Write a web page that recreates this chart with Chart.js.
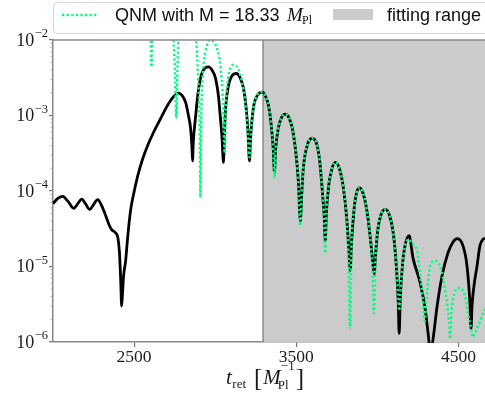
<!DOCTYPE html>
<html lang="en">
<head>
    <meta charset="UTF-8">
    <title>QNM fit</title>
    <script src="https://cdn.jsdelivr.net/npm/chart.js@4.4.0/dist/chart.umd.min.js"></script>
    <style>
        body { margin: 0; background: #fff; }
        .chart-box { width: 485px; height: 401px; position: relative; }
    </style>
</head>
<body>
    <div class="chart-box">
        <canvas id="qnmChart"></canvas>
    </div>

    <script>
        // axis range and ticks
        const xMin = 2000, xMax = 4663;
        const xTicks = [2500, 3500, 4500];
        const yExps = [-2, -3, -4, -5, -6];
        const fitStart = 3295;

        // numerical waveform |h| (black)
        const tBlack = [2000, 2030, 2060, 2090, 2128, 2155, 2177, 2200, 2226, 2250, 2275, 2300, 2325, 2345, 2360, 2385,
            2400, 2410, 2418, 2423, 2429, 2435, 2448, 2460, 2478, 2497, 2522, 2552, 2583, 2620, 2663, 2700, 2725, 2750,
            2774, 2795, 2817, 2835, 2848, 2856, 2860, 2865, 2878, 2893, 2909, 2930, 2958, 2980, 3002, 3020, 3032, 3042,
            3051, 3057, 3066, 3082, 3105, 3131, 3155, 3174, 3190, 3202, 3211, 3218, 3235, 3260, 3291, 3310, 3328, 3345,
            3358, 3365, 3372, 3389, 3410, 3432, 3455, 3475, 3495, 3512, 3525, 3532, 3543, 3570, 3598, 3625, 3645, 3660,
            3672, 3678, 3685, 3700, 3720, 3740, 3765, 3790, 3810, 3825, 3832, 3840, 3855, 3870, 3888, 3910, 3935, 3955,
            3970, 3980, 3988, 4000, 4020, 4048, 4075, 4100, 4118, 4128, 4134, 4140, 4155, 4170, 4195, 4220, 4263, 4294,
            4312, 4328, 4343, 4368, 4398, 4435, 4465, 4493, 4527, 4552, 4570, 4577, 4583, 4595, 4614, 4632, 4651, 4663];
        const hBlack = [6.8e-5, 8.0e-5, 8.5e-5, 7.4e-5, 5.9e-5, 6.9e-5, 7.8e-5, 6.8e-5, 5.7e-5, 6.6e-5, 7.7e-5, 6.4e-5, 4.7e-5, 3.6e-5, 3.1e-5, 2.8e-5,
            2.4e-5, 1.5e-5, 6.0e-6, 3.0e-6, 4.6e-6, 7.5e-6, 1.2e-5, 2.4e-5, 5.5e-5, 9.1e-5, 1.58e-4, 2.63e-4, 3.98e-4, 6.0e-4, 9.1e-4, 1.29e-3, 1.58e-3, 1.84e-3,
            1.98e-3, 1.85e-3, 1.5e-3, 1.0e-3, 6.8e-4, 4.0e-4, 2.5e-4, 4.5e-4, 9.2e-4, 1.9e-3, 3.1e-3, 4.1e-3, 4.4e-3, 4.0e-3, 3.1e-3, 1.8e-3, 9.2e-4, 5.0e-4,
            2.4e-4, 6.0e-4, 1.4e-3, 2.5e-3, 3.4e-3, 3.6e-3, 3.1e-3, 2.3e-3, 1.3e-3, 6.0e-4, 2.5e-4, 5.0e-4, 1.25e-3, 1.85e-3, 2.04e-3, 1.8e-3, 1.37e-3, 7.5e-4,
            3.5e-4, 1.76e-4, 3.5e-4, 6.8e-4, 9.5e-4, 1.04e-3, 9.3e-4, 6.8e-4, 3.5e-4, 1.4e-4, 4.0e-5, 8.0e-5, 2.0e-4, 4.2e-4, 5.0e-4, 4.2e-4, 2.4e-4, 1.0e-4,
            4.5e-5, 2.2e-5, 5.0e-5, 1.2e-4, 2.0e-4, 2.4e-4, 2.0e-4, 1.1e-4, 4.5e-5, 1.5e-5, 8.8e-6, 2.0e-5, 5.5e-5, 9.2e-5, 1.11e-4, 9.5e-5, 5.5e-5, 2.5e-5,
            1.2e-5, 8.0e-6, 1.4e-5, 2.8e-5, 4.7e-5, 5.7e-5, 4.7e-5, 2.5e-5, 9.0e-6, 3.5e-6, 1.3e-6, 3.5e-6, 1.1e-5, 1.9e-5, 2.56e-5, 1.27e-5, 6.1e-6, 2.75e-6,
            1.32e-6, 7.0e-7, 1.1e-6, 3.0e-6, 7.5e-6, 1.52e-5, 2.1e-5, 2.34e-5, 1.89e-5, 1.02e-5, 3.3e-6, 1.5e-6, 3.0e-6, 5.5e-6, 1.02e-5, 1.89e-5, 2.3e-5, 2.35e-5];

        // QNM with M = 18.33 (green dotted)
        const tGreen = [2598, 2607, 2616, 2680, 2742, 2752, 2760, 2767, 2776, 2830, 2880, 2895, 2904, 2909, 2913, 2922,
            2940, 2970, 2990, 3013, 3032, 3048, 3058, 3065, 3080, 3095, 3115, 3140, 3165, 3185, 3200, 3212, 3218, 3235,
            3260, 3291, 3310, 3328, 3345, 3358, 3366, 3372, 3389, 3410, 3432, 3455, 3475, 3495, 3512, 3524, 3532, 3543,
            3570, 3598, 3625, 3645, 3660, 3672, 3678, 3685, 3700, 3720, 3740, 3765, 3790, 3810, 3822, 3831, 3840, 3855,
            3870, 3888, 3910, 3935, 3955, 3968, 3979, 3988, 4000, 4020, 4048, 4075, 4100, 4118, 4128, 4134, 4140, 4155,
            4171, 4190, 4215, 4245, 4263, 4282, 4291, 4300, 4306, 4325, 4355, 4386, 4405, 4429, 4442, 4448, 4456, 4466,
            4497, 4540, 4558, 4575, 4589, 4600, 4614, 4645, 4663];
        const hGreen = [3.0e-2, 4.4e-3, 3.0e-2, 9.0e-2, 1.2e-2, 3.5e-3, 9.2e-4, 4.0e-3, 1.3e-2, 4.0e-2, 1.2e-2, 3.0e-3, 7.0e-4, 8.2e-5, 7.0e-4, 3.0e-3,
            7.0e-3, 1.0e-2, 9.5e-3, 7.5e-3, 4.5e-3, 1.5e-3, 3.2e-4, 1.2e-3, 3.2e-3, 4.3e-3, 4.7e-3, 4.2e-3, 2.8e-3, 1.5e-3, 6.0e-4, 2.8e-4, 5.0e-4, 1.25e-3,
            1.9e-3, 2.05e-3, 1.8e-3, 1.37e-3, 7.5e-4, 3.5e-4, 1.5e-4, 3.5e-4, 6.8e-4, 9.5e-4, 1.04e-3, 9.3e-4, 6.8e-4, 3.5e-4, 1.4e-4, 3.5e-5, 8.0e-5, 2.0e-4,
            4.2e-4, 5.0e-4, 4.2e-4, 2.4e-4, 1.0e-4, 4.0e-5, 1.5e-5, 5.0e-5, 1.2e-4, 2.0e-4, 2.4e-4, 2.0e-4, 1.1e-4, 4.5e-5, 1.2e-5, 1.5e-6, 2.0e-5, 5.5e-5,
            9.2e-5, 1.11e-4, 9.5e-5, 5.5e-5, 2.5e-5, 1.0e-5, 2.4e-6, 1.4e-5, 2.8e-5, 4.7e-5, 5.7e-5, 4.7e-5, 2.5e-5, 9.0e-6, 4.0e-6, 2.6e-6, 4.0e-6, 1.1e-5,
            1.9e-5, 2.3e-5, 2.0e-5, 1.6e-5, 7.5e-6, 3.3e-6, 1.9e-6, 3.3e-6, 4.5e-6, 1.02e-5, 1.19e-5, 1.02e-5, 6.9e-6, 3.3e-6, 1.8e-6, 1.1e-6, 2.4e-6, 3.7e-6,
            5.2e-6, 4.1e-6, 2.4e-6, 1.6e-6, 1.16e-6, 1.3e-6, 1.5e-6, 2.2e-6, 2.75e-6];

        const GREEN = '#00ff7f';
        const SERIF = '"Liberation Serif", "DejaVu Serif", serif';
        const SANS = '"Liberation Sans", Arial, sans-serif';

        function isDecade(v) {
            const l = Math.log10(v);
            return Math.abs(l - Math.round(l)) < 1e-6;
        }

        // shaded fitting range, frame, labels and legend
        const decor = {
            id: 'decor',
            beforeDatasetsDraw(chart) {
                const { ctx, chartArea: a } = chart;
                const x0 = chart.scales.x.getPixelForValue(fitStart);
                ctx.save();
                ctx.fillStyle = '#cbcbcb';
                ctx.fillRect(x0, a.top, a.right - x0, a.bottom - a.top);
                ctx.strokeStyle = '#8a8a8a';
                ctx.lineWidth = 1.5;
                ctx.beginPath();
                ctx.moveTo(x0, a.top);
                ctx.lineTo(x0, a.bottom);
                ctx.stroke();
                ctx.restore();
            },
            afterDraw(chart) {
                const { ctx, chartArea: a } = chart;
                const xs = chart.scales.x, ys = chart.scales.y;
                ctx.save();

                // top spine
                ctx.strokeStyle = '#888';
                ctx.lineWidth = 1.5;
                ctx.beginPath();
                ctx.moveTo(a.left, a.top);
                ctx.lineTo(a.right, a.top);
                ctx.stroke();

                // minor y ticks
                ctx.strokeStyle = '#999';
                ctx.lineWidth = 0.8;
                for (let e = -6; e < -2; e++) {
                    for (let m = 2; m < 10; m++) {
                        const y = ys.getPixelForValue(m * Math.pow(10, e));
                        ctx.beginPath();
                        ctx.moveTo(a.left - 2.5, y);
                        ctx.lineTo(a.left, y);
                        ctx.stroke();
                    }
                }

                // y labels 10^n
                ctx.fillStyle = '#1a1a1a';
                ctx.textBaseline = 'middle';
                yExps.forEach(e => {
                    const y = ys.getPixelForValue(Math.pow(10, e));
                    const sup = '\u2212' + (-e);
                    ctx.font = '12.5px ' + SERIF;
                    const w = ctx.measureText(sup).width;
                    ctx.textAlign = 'left';
                    ctx.fillText(sup, 48 - w, y - 6);
                    ctx.font = '18px ' + SERIF;
                    ctx.textAlign = 'right';
                    ctx.fillText('10', 48 - w - 0.5, y + 1);
                });

                // x labels
                ctx.font = '17.5px ' + SERIF;
                ctx.textAlign = 'center';
                xTicks.forEach(v => ctx.fillText(String(v), xs.getPixelForValue(v), 357));

                // x title: t_ret [M_Pl^-1]
                ctx.textAlign = 'left';
                ctx.textBaseline = 'alphabetic';
                let x = 226;
                ctx.font = 'italic 21px ' + SERIF;
                ctx.fillText('t', x, 384);
                x += ctx.measureText('t').width + 0.5;
                ctx.font = '13px ' + SERIF;
                ctx.fillText('ret', x, 388);
                x += ctx.measureText('ret').width + 8;
                ctx.font = '25px ' + SERIF;
                ctx.fillText('[', x, 386);
                x += ctx.measureText('[').width + 1;
                ctx.font = 'italic 21px ' + SERIF;
                ctx.fillText('M', x, 384);
                x += ctx.measureText('M').width;
                ctx.font = '13px ' + SERIF;
                ctx.fillText('Pl', x - 3, 389);
                const wPl = ctx.measureText('Pl').width - 3;
                ctx.fillText('\u22121', x, 370);
                const wSup = ctx.measureText('\u22121').width;
                x += Math.max(wPl, wSup) + 1;
                ctx.font = '25px ' + SERIF;
                ctx.fillText(']', x, 386);

                // legend
                ctx.fillStyle = 'rgba(255,255,255,0.85)';
                ctx.strokeStyle = '#d6d6d6';
                ctx.lineWidth = 1;
                ctx.beginPath();
                ctx.roundRect(53.5, 2.5, 470, 31, 4);
                ctx.fill();
                ctx.stroke();

                ctx.strokeStyle = GREEN;
                ctx.lineWidth = 2.5;
                ctx.setLineDash([2.2, 2.4]);
                ctx.beginPath();
                ctx.moveTo(62, 15);
                ctx.lineTo(98, 15);
                ctx.stroke();
                ctx.setLineDash([]);

                ctx.fillStyle = '#111';
                ctx.font = '18px ' + SANS;
                ctx.fillText('QNM with M = 18.33', 115, 20.5);
                ctx.font = 'italic 19px ' + SERIF;
                ctx.fillText('M', 287, 20.5);
                ctx.font = '12px ' + SERIF;
                ctx.fillText('Pl', 302, 24);

                ctx.fillStyle = '#cbcbcb';
                ctx.fillRect(333, 9, 40, 11);
                ctx.fillStyle = '#111';
                ctx.font = '18px ' + SANS;
                ctx.fillText('fitting range', 387, 20.5);

                ctx.restore();
            }
        };

        const blackPts = tBlack.map((t, i) => ({ x: t, y: hBlack[i] }));
        const greenPts = tGreen.map((t, i) => ({ x: t, y: hGreen[i] }));

        new Chart(document.getElementById('qnmChart'), {
            type: 'line',
            data: {
                datasets: [
                    {
                        label: 'numerical',
                        data: blackPts,
                        borderColor: '#000',
                        borderWidth: 2.8,
                        pointRadius: 0,
                        cubicInterpolationMode: 'monotone',
                        clip: 1,
                        order: 2
                    },
                    {
                        label: 'QNM with M = 18.33 M_Pl',
                        data: greenPts,
                        borderColor: GREEN,
                        borderWidth: 2.5,
                        borderDash: [2.2, 2.4],
                        pointRadius: 0,
                        cubicInterpolationMode: 'monotone',
                        clip: 1,
                        order: 1
                    }
                ]
            },
            options: {
                responsive: true,
                maintainAspectRatio: false,
                animation: false,
                layout: { padding: { top: 40, left: 0, right: 0, bottom: 0 } },
                plugins: { legend: { display: false }, tooltip: { enabled: false } },
                scales: {
                    x: {
                        type: 'linear',
                        min: xMin,
                        max: xMax,
                        afterBuildTicks: s => { s.ticks = xTicks.map(v => ({ value: v })); },
                        afterFit: s => { s.height = 59; },
                        ticks: { display: false },
                        grid: { drawOnChartArea: false, tickLength: 5, color: '#777', lineWidth: 1.2 },
                        border: { color: '#888', width: 1.5 }
                    },
                    y: {
                        type: 'logarithmic',
                        min: 1e-6,
                        max: 1e-2,
                        afterFit: s => { s.width = 53; },
                        ticks: { display: false },
                        grid: {
                            drawOnChartArea: false,
                            tickLength: 4,
                            lineWidth: 1.2,
                            color: c => (c.tick && isDecade(c.tick.value)) ? '#777' : 'rgba(0,0,0,0)'
                        },
                        border: { color: '#888', width: 1.5 }
                    }
                }
            },
            plugins: [decor]
        });
    </script>
</body>
</html>
